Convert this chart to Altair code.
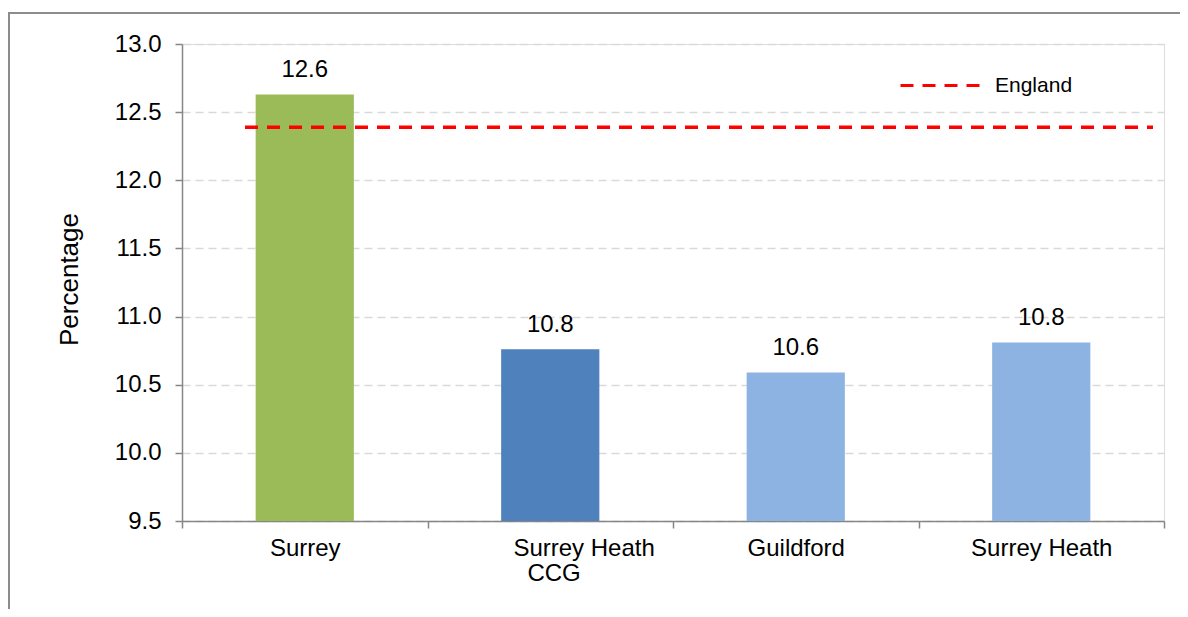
import altair as alt
import pandas as pd

# ---- data ----
categories = ["Surrey", "Surrey Heath CCG", "Guildford", "Surrey Heath"]
values = [12.63, 10.76, 10.59, 10.81]
value_labels = ["12.6", "10.8", "10.6", "10.8"]
bar_colors = ["#9BBB59", "#4F81BD", "#8DB3E2", "#8DB3E2"]
england_value = 12.39
england_label = "England"
y_ticks = [9.5, 10.0, 10.5, 11.0, 11.5, 12.0, 12.5, 13.0]
y_min, y_max = 9.5, 13.0

df = pd.DataFrame({"area": categories, "value": values,
                   "label": value_labels, "color": bar_colors})
eng = pd.DataFrame({"series": [england_label], "value": [england_value]})
frame = pd.DataFrame({"f": [0]})

FONT = "Liberation Sans"
AXIS_GRAY = "#868686"
ZW = "\u200b"   # zero-width, keeps the following spaces from being trimmed
NB = "\u00a0"

label_expr = ("datum.value == 'Surrey Heath CCG' ? ['" + ZW + NB * 10 + "Surrey Heath', '"
              + ZW + NB + "CCG'] : datum.value")

x_enc = alt.X(
    "area:N", sort=categories, title=None,
    scale=alt.Scale(paddingInner=0, paddingOuter=0),
    axis=alt.Axis(tickBand="extent", labelAngle=0, labelFontSize=24,
                  labelColor="black", labelFont=FONT, domainColor=AXIS_GRAY,
                  tickColor=AXIS_GRAY, domainWidth=1.5, tickWidth=1.5,
                  tickSize=7, labelPadding=8, labelLineHeight=25,
                  labelLimit=400, labelExpr=label_expr, grid=False),
)
y_enc = alt.Y(
    "value:Q", title="Percentage",
    scale=alt.Scale(domain=[y_min, y_max], zero=False, nice=False),
    axis=alt.Axis(values=y_ticks, format=".1f", labelFontSize=24,
                  labelColor="black", labelFont=FONT, domainColor=AXIS_GRAY,
                  tickColor=AXIS_GRAY, domainWidth=1.5, tickWidth=1.5,
                  tickSize=7, labelPadding=14, titleFontSize=26,
                  titleFont=FONT, titleFontWeight="normal", titleColor="black",
                  titlePadding=32, titleY=235, grid=True, gridColor="#d9d9d9",
                  gridDash=[8, 5], gridWidth=1.5),
)

# outer frame of the chart (top and left edges visible in the reference)
frame_left = alt.Chart(frame).mark_rule(stroke="#8c8c8c", strokeWidth=2).encode(
    x=alt.value(-173), y=alt.value(-31), y2=alt.value(580)
)
frame_top = alt.Chart(frame).mark_rule(stroke="#8c8c8c", strokeWidth=2).encode(
    x=alt.value(-174), x2=alt.value(1010), y=alt.value(-31)
)

bars = alt.Chart(df).mark_bar(width=alt.RelativeBandSize(0.4)).encode(
    x=x_enc,
    y=y_enc,
    y2=alt.datum(y_min),
    color=alt.Color("color:N", scale=None),
)

texts = alt.Chart(df).mark_text(
    font=FONT, fontSize=24, color="black", baseline="alphabetic", dy=-17
).encode(
    x=alt.X("area:N", sort=categories),
    y=alt.Y("value:Q"),
    text="label:N",
)

england = alt.Chart(eng).mark_rule(strokeDash=[13, 9], strokeWidth=3.5).encode(
    x=alt.value(63), x2=alt.value(971),
    y=alt.Y("value:Q"),
    stroke=alt.Stroke(
        "series:N", scale=alt.Scale(range=["#FF0000"]),
        legend=alt.Legend(title=None, orient="none", legendX=717, legendY=0,
                          symbolType="stroke", symbolSize=6400,
                          symbolStrokeWidth=3, symbolDash=[13, 9],
                          symbolStrokeColor="#FF0000",
                          labelFontSize=21, labelFont=FONT, labelColor="black",
                          labelOffset=13, padding=0),
    ),
)

chart = alt.layer(frame_left, frame_top, bars, texts, england).properties(
    width=982, height=477,
    autosize=alt.AutoSizeParams(type="none"),
    padding={"left": 174, "top": 36, "right": 16, "bottom": 88},
).configure_view(stroke=None).configure(background="white")

chart.save("out.html", embed_options={"renderer": "svg", "actions": False})
